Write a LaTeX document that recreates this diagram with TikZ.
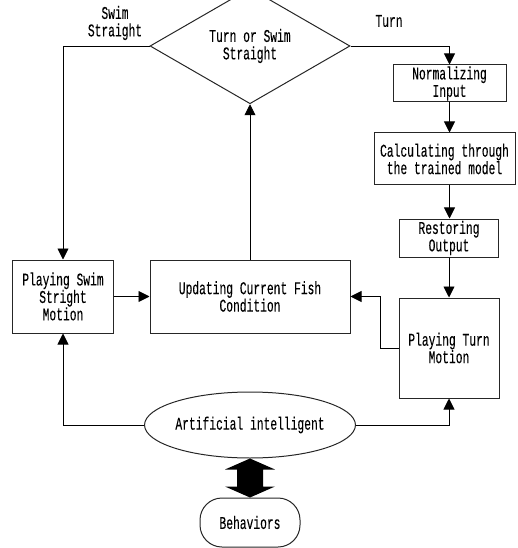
\documentclass[tikz,border=0pt]{standalone}
\usepackage{fontspec}
\newfontfamily\boxfont{Liberation Mono}[FakeStretch=0.63,FakeBold=0.12]
\usetikzlibrary{shapes.geometric,arrows.meta,calc}
\tikzset{
  txt/.style={font=\boxfont\fontsize{18}{17.5}\selectfont, align=center, inner sep=0pt},
  box/.style={txt, draw=black!85, line width=1bp},
  flow/.style={draw, line width=0.9bp, -{Triangle[width=11bp,length=11bp]}},
}
\begin{document}
\begin{tikzpicture}[x=1bp,y=-1bp]
\useasboundingbox (0,0) rectangle (518,548);

% decision
\node[box, diamond, minimum width=200bp, minimum height=76bp] (dia) at (250,46) {Turn or Swim\\Straight};

% right-hand chain
\node[box, minimum width=113bp, minimum height=37bp] (norm) at (449.5,83.5) {Normalizing\\Input};
\node[box, minimum width=141bp, minimum height=52bp] (calc) at (444.5,159) {Calculating through\\the trained model};
\node[box, minimum width=99bp, minimum height=38bp] (rest) at (449,238) {Restoring\\Output};
\node[box, minimum width=100bp, minimum height=100bp] (turn) at (449,348) {Playing Turn\\Motion};

% middle row
\node[box, minimum width=200bp, minimum height=73bp] (upd) at (250,296.5) {Updating Current Fish\\Condition};
\node[box, minimum width=100bp, minimum height=73bp] (swim) at (63,296.5) {Playing Swim\\Stright\\Motion};

% bottom
\node[box, ellipse, minimum width=200bp, minimum height=66bp] (ai) at (250,425) {Artificial intelligent};
\node[box, rounded corners=22bp, minimum width=100bp, minimum height=49bp] (beh) at (250,522.5) {Behaviors};

% branch labels
\node[txt] (lswim) at (115,23) {Swim\\Straight};
\node[txt] (lturn) at (389,21) {Turn};

% connectors
\draw[flow] (dia.east) -| (norm.north);
\draw[flow] (norm.south) -- (norm.south |- calc.north);
\draw[flow] (norm.south |- calc.south) -- (norm.south |- rest.north);
\draw[flow] (rest.south) -- (turn.north);
\draw[flow] (turn.west) -- ++(-18,0) |- (upd.east);
\draw[flow] (upd.north) -- (dia.south);
\draw[flow] (dia.west) -| (swim.north);
\draw[flow] (swim.east) -- (upd.west);
\draw[flow] (ai.west) -| (swim.south);
\draw[flow] (ai.east) -| (turn.south);

% two-way link between the AI and the behaviours
\fill (ai.south) -- ++(25,11) -- ++(-12,0) -- ++(0,17) -- ++(12,0) -- (beh.north)
      -- ++(-25,-11) -- ++(12,0) -- ++(0,-17) -- ++(-12,0) -- cycle;
\end{tikzpicture}
\end{document}
